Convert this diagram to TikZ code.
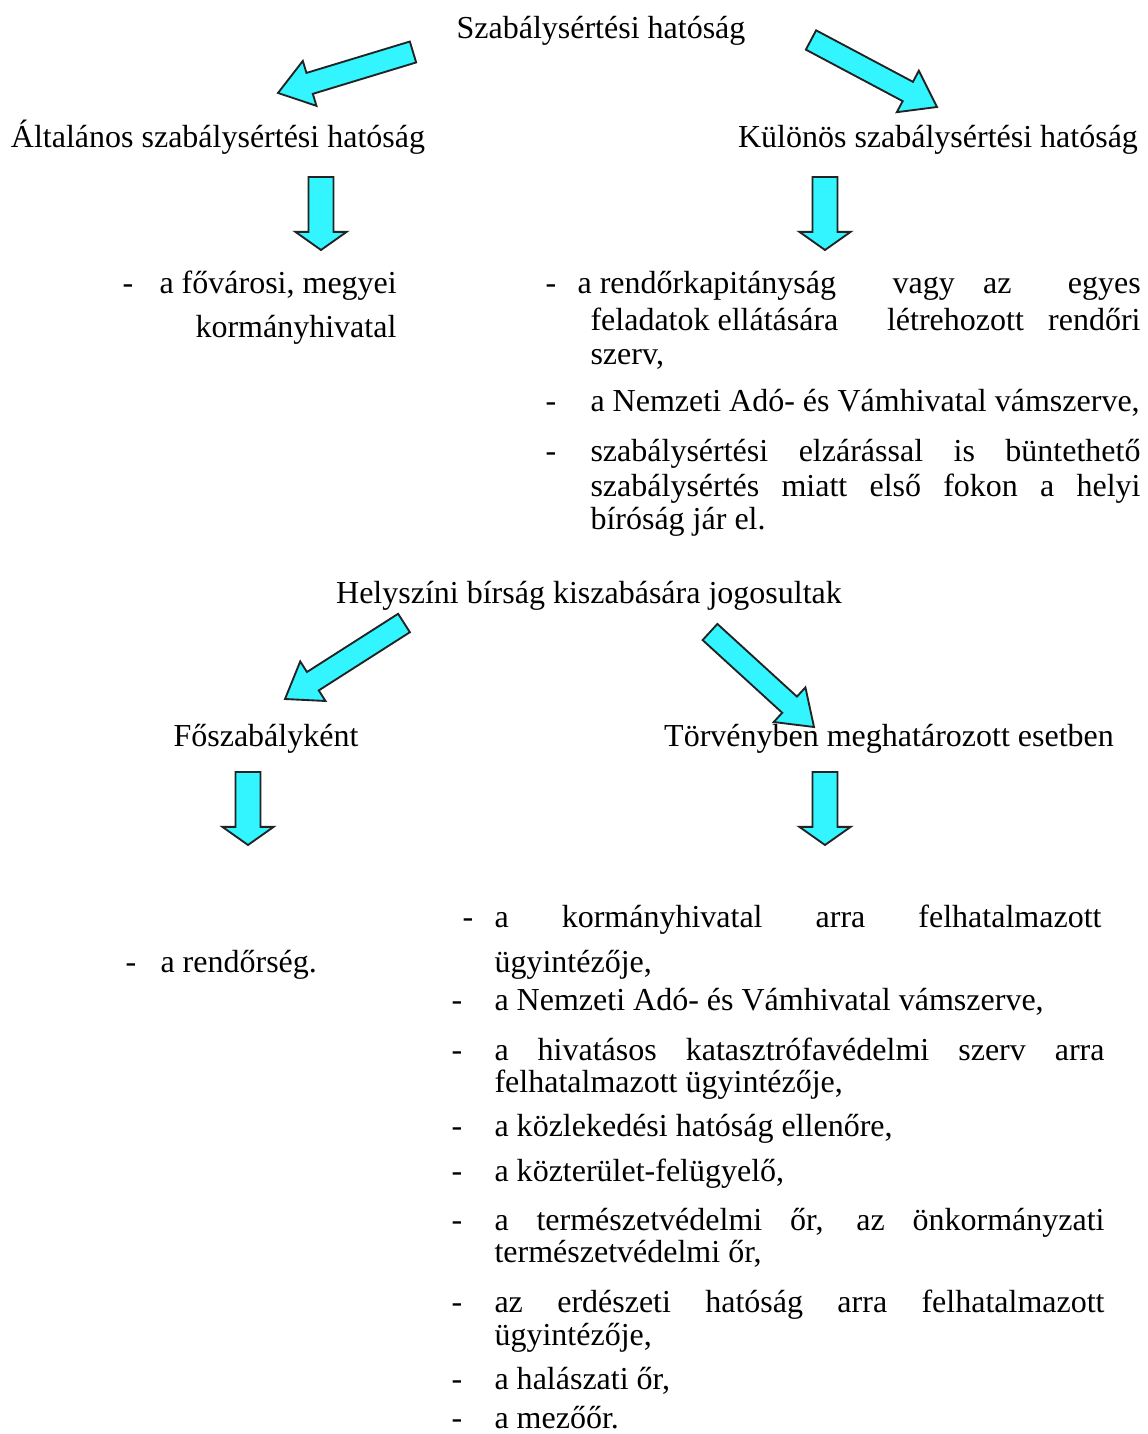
\documentclass[tikz,border=0pt]{standalone}
\usepackage{fontspec}
\setmainfont{Liberation Serif}
\usetikzlibrary{calc}

\definecolor{arrowcyan}{RGB}{51,245,255}
\definecolor{arrowedge}{RGB}{35,35,35}

\tikzset{
  blockarrow/.style={fill=arrowcyan, draw=arrowedge, line width=0.7pt, line join=miter},
  txt/.style={font=\fontsize{12}{14}\selectfont, inner sep=0pt, anchor=base},
  ln/.style={txt, anchor=base west},
}

% block arrow: tail, tip, half shaft, half head, head length
\newcommand{\bigarrow}[5]{%
  \coordinate (hb) at ($(#2)!#5!(#1)$);
  \draw[blockarrow] ($(#1)!#3!90:(#2)$) -- ($(hb)!#3!90:(#2)$) -- ($(hb)!#4!90:(#2)$) -- (#2)
    -- ($(hb)!#4!-90:(#2)$) -- ($(hb)!#3!-90:(#2)$) -- ($(#1)!#3!-90:(#2)$) -- cycle;
}
\newcommand{\tiltarrow}[2]{\bigarrow{#1}{#2}{4.1pt}{8.8pt}{12.4pt}}
\newcommand{\droparrow}[2]{\bigarrow{#1}{#2}{4.7pt}{9.6pt}{6.8pt}}
\newcommand{\jline}[2]{\makebox[#1][s]{#2}}

\begin{document}
\begin{tikzpicture}[x=0.375pt, y=-0.375pt]
  \fill[white] (0,0) rectangle (1147,1434);
  \useasboundingbox (0,0) rectangle (1147,1434);

  % first tree
  \node[txt] (root) at (601,39) {Szabálysértési hatóság};
  \node[txt] (gen) at (218,148) {Általános szabálysértési hatóság};
  \node[txt] (spec) at (938,148) {Különös szabálysértési hatóság};

  % general authority
  \node[ln] (gd1) at (122,293) {-};
  \node[ln] (g1) at (159,293) {a fővárosi, megyei};
  \node[ln] (g1b) at (195,337) {kormányhivatal};

  % special authorities
  \node[ln] (sd1) at (545,293) {-};
  \node[ln] (s1) at (577,293) {a \jline{202.9pt}{rendőrkapitányság\ \ vagy az\ \ egyes}};
  \node[ln] (s1b) at (590,330) {\jline{206.25pt}{feladatok\hspace{3pt}ellátására\ \ létrehozott rendőri}};
  \node[ln] (s1c) at (590,364) {szerv,};
  \node[ln] (sd2) at (545,411) {-};
  \node[ln] (s2) at (590,411) {a Nemzeti Adó- és Vámhivatal vámszerve,};
  \node[ln] (sd3) at (545,461) {-};
  \node[ln] (s3) at (590,461) {\jline{206.25pt}{szabálysértési elzárással is büntethető}};
  \node[ln] (s3b) at (590,496) {\jline{206.25pt}{szabálysértés miatt első fokon a helyi}};
  \node[ln] (s3c) at (590,529) {bíróság jár el.};

  % second tree
  \node[txt] (fine) at (589,603) {Helyszíni bírság kiszabására jogosultak};
  \node[txt] (main) at (266,746) {Főszabályként};
  \node[txt] (law) at (889,746) {Törvényben meghatározott esetben};

  \node[ln] (md1) at (125,972) {-};
  \node[ln] (m1) at (160,972) {a rendőrség.};

  % cases named by law
  \node[ln] (ld1) at (462,927) {-};
  \node[ln] (l1) at (494,927) {\jline{227.6pt}{a kormányhivatal arra felhatalmazott}};
  \node[ln] (l1b) at (494,972) {ügyintézője,};
  \node[ln] (ld2) at (451,1010) {-};
  \node[ln] (l2) at (494,1010) {a Nemzeti Adó- és Vámhivatal vámszerve,};
  \node[ln] (ld3) at (451,1060) {-};
  \node[ln] (l3) at (494,1060) {\jline{228.75pt}{a hivatásos katasztrófavédelmi szerv arra}};
  \node[ln] (l3b) at (494,1092) {felhatalmazott ügyintézője,};
  \node[ln] (ld4) at (451,1136) {-};
  \node[ln] (l4) at (494,1136) {a közlekedési hatóság ellenőre,};
  \node[ln] (ld5) at (451,1181) {-};
  \node[ln] (l5) at (494,1181) {a közterület-felügyelő,};
  \node[ln] (ld6) at (451,1230) {-};
  \node[ln] (l6) at (494,1230) {\jline{228.75pt}{a természetvédelmi őr, az önkormányzati}};
  \node[ln] (l6b) at (494,1262) {természetvédelmi őr,};
  \node[ln] (ld7) at (451,1312) {-};
  \node[ln] (l7) at (494,1312) {\jline{228.75pt}{az erdészeti hatóság arra felhatalmazott}};
  \node[ln] (l7b) at (494,1345) {ügyintézője,};
  \node[ln] (ld8) at (451,1389) {-};
  \node[ln] (l8) at (494,1389) {a halászati őr,};
  \node[ln] (ld9) at (451,1428) {-};
  \node[ln] (l9) at (494,1428) {a mezőőr.};

  % arrow ends
  \coordinate (root-l) at (413,52);
  \coordinate (gen-in) at (278,93);
  \coordinate (root-r) at (811,40);
  \coordinate (spec-in) at (937,107);
  \coordinate (gen-out) at (321,177);
  \coordinate (glist-in) at (321,250);
  \coordinate (spec-out) at (825,177);
  \coordinate (slist-in) at (825,250);
  \coordinate (fine-l) at (404,623);
  \coordinate (main-in) at (285,699);
  \coordinate (fine-r) at (710,632);
  \coordinate (law-in) at (814,727);
  \coordinate (main-out) at (248,772);
  \coordinate (mlist-in) at (248,845);
  \coordinate (law-out) at (825,772);
  \coordinate (llist-in) at (825,845);

  \tiltarrow{root-l}{gen-in}
  \tiltarrow{root-r}{spec-in}
  \droparrow{gen-out}{glist-in}
  \droparrow{spec-out}{slist-in}
  \tiltarrow{fine-l}{main-in}
  \tiltarrow{fine-r}{law-in}
  \droparrow{main-out}{mlist-in}
  \droparrow{law-out}{llist-in}
\end{tikzpicture}
\end{document}
